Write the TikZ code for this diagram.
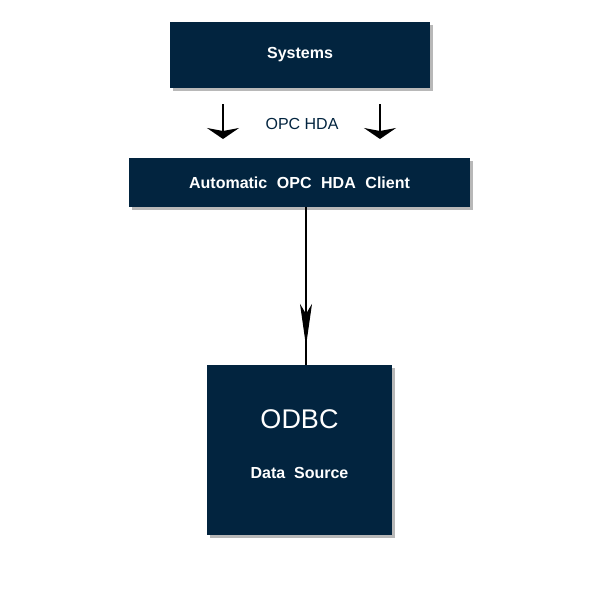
\documentclass[tikz,border=0pt]{standalone}
\usepackage{fontspec}
\setmainfont{Liberation Sans}
\usetikzlibrary{arrows.meta, shadows, decorations.markings}

\definecolor{navy}{HTML}{02243F}

\tikzset{
  block/.style={fill=navy, text=white, font=\bfseries, inner sep=0pt,
    drop shadow={shadow xshift=3pt, shadow yshift=-3pt, fill=black!35, opacity=0.8}},
  fatarrow/.style={line width=2.6pt, -{Stealth[length=11pt, width=32pt, inset=3pt]}},
  midarrow/.style={line width=1.1pt, decoration={markings,
    mark=at position 0.88 with {\arrow{Stealth[length=42pt, width=12pt, inset=10pt]}}},
    postaction={decorate}}
}

\begin{document}
\begin{tikzpicture}[x=1pt, y=-1pt]
  \useasboundingbox (0,0) rectangle (600,600);

  \node[block, minimum width=260pt, minimum height=66pt, font=\bfseries\fontsize{16}{19}\selectfont]
    (sys) at (300,55) {Systems};
  \node[block, minimum width=341pt, minimum height=49pt, font=\bfseries\fontsize{16}{19}\selectfont]
    (client) at (299.5,182.5) {Automatic\hspace{0.6em}OPC\hspace{0.6em}HDA\hspace{0.6em}Client};
  \node[block, minimum width=185pt, minimum height=170pt] (odbc) at (299.5,450) {};
  \node[text=white, font=\fontsize{27}{30}\selectfont] (odbcname) at (299.5,419) {ODBC};
  \node[text=white, font=\bfseries\fontsize{16}{19}\selectfont] (src) at (299.5,473)
    {Data\hspace{0.55em}Source};

  % the OPC HDA link
  \coordinate (la) at (223,104);
  \coordinate (lb) at (223,139);
  \coordinate (ra) at (380,104);
  \coordinate (rb) at (380,139);
  \draw[fatarrow] (la) -- (lb);
  \draw[fatarrow] (ra) -- (rb);
  \node[text=navy, font=\fontsize{16}{19}\selectfont] (opc) at (302,124) {OPC HDA};

  % client to data source
  \draw[midarrow] (client.south -| 306,0) -- (odbc.north -| 306,0);
\end{tikzpicture}
\end{document}
